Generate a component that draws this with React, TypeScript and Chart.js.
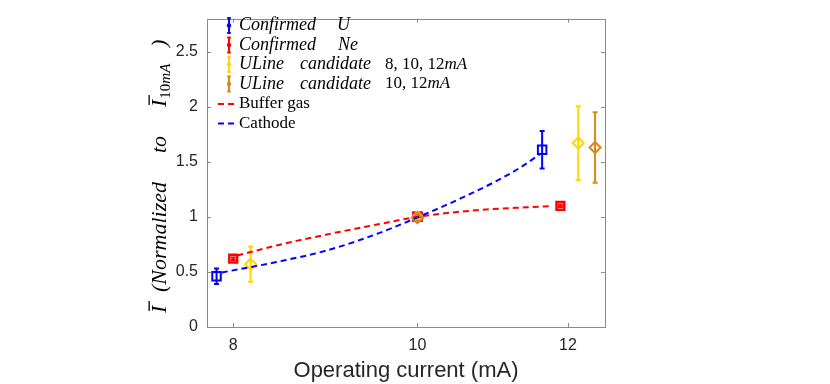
import React, { useEffect, useRef } from 'react';
import { Chart, registerables } from 'chart.js';

Chart.register(...registerables);

// ---------- data ----------
const X_TICKS = [8, 10, 12];
const Y_TICKS = [0, 0.5, 1, 1.5, 2, 2.5];
const X_MIN = 7.75;
const X_MAX = 12.55;
const Y_MIN = 0;
const Y_MAX = 2.8;

const U_X = [7.84, 10, 11.63];
const U_Y = [0.46, 1.0, 1.61];
const U_ERR = [0.07, 0.02, 0.17];

const NE_X = [8, 10, 11.89];
const NE_Y = [0.62, 1.0, 1.1];
const NE_ERR = [0.012, 0.015, 0.01];

const YEL_X = [8.17, 10, 12.15];
const YEL_Y = [0.57, 1.0, 1.67];
const YEL_ERR = [0.16, 0.02, 0.335];

const ORA_X = [10, 12.4];
const ORA_Y = [0.99, 1.63];
const ORA_ERR = [0.03, 0.32];

const BUF_X = [8.04, 8.43, 8.96, 9.52, 10, 10.74, 11.41, 11.78];
const BUF_Y = [0.65, 0.74, 0.84, 0.93, 1.0, 1.06, 1.087, 1.098];

const CAT_X = [7.89, 8.43, 8.96, 9.52, 10, 10.53, 10.96, 11.32, 11.59];
const CAT_Y = [0.495, 0.59, 0.695, 0.845, 0.995, 1.165, 1.31, 1.445, 1.565];

const X_TITLE = 'Operating current (mA)';

const BLUE = '#0000FF';
const RED = '#FF0000';
const YELLOW = '#FFD600';
const ORANGE = '#DD8614';
const AXIS = '#8a8a8a';
const TEXT = '#262626';

const zip = (xs: number[], ys: number[]) => xs.map((x, i) => ({ x, y: ys[i] }));

// ---------- plugins ----------
const errorBars = {
  id: 'errorBars',
  beforeDatasetDraw(chart: any, args: any) {
    const ds = chart.data.datasets[args.index];
    if (!ds.errors) return;
    const { ctx, scales } = chart;
    const x = scales.x;
    const y = scales.y;
    ctx.save();
    ctx.strokeStyle = ds.borderColor;
    ctx.lineWidth = 2;
    ds.data.forEach((p: any, i: number) => {
      const e = ds.errors[i];
      const px = x.getPixelForValue(p.x);
      const top = y.getPixelForValue(p.y + e);
      const bot = y.getPixelForValue(p.y - e);
      const cap = 2.5;
      ctx.beginPath();
      ctx.moveTo(px, top);
      ctx.lineTo(px, bot);
      ctx.moveTo(px - cap, top);
      ctx.lineTo(px + cap, top);
      ctx.moveTo(px - cap, bot);
      ctx.lineTo(px + cap, bot);
      ctx.stroke();
    });
    ctx.restore();
  },
};

const boxPlugin = {
  id: 'boxPlugin',
  beforeDatasetsDraw(chart: any) {
    const { ctx, chartArea: a, scales } = chart;
    ctx.save();
    ctx.strokeStyle = AXIS;
    ctx.lineWidth = 1;
    ctx.strokeRect(Math.round(a.left) + 0.5, Math.round(a.top) + 0.5, Math.round(a.right - a.left), Math.round(a.bottom - a.top));
    const t = 4;
    ctx.beginPath();
    X_TICKS.forEach((v) => {
      const px = Math.round(scales.x.getPixelForValue(v)) + 0.5;
      ctx.moveTo(px, a.bottom);
      ctx.lineTo(px, a.bottom - t);
      ctx.moveTo(px, a.top);
      ctx.lineTo(px, a.top + t);
    });
    Y_TICKS.forEach((v) => {
      const py = Math.round(scales.y.getPixelForValue(v)) + 0.5;
      ctx.moveTo(a.left, py);
      ctx.lineTo(a.left + t, py);
      ctx.moveTo(a.right, py);
      ctx.lineTo(a.right - t, py);
    });
    ctx.stroke();
    ctx.restore();
  },
};

const IT = (s: number) => `italic ${s}px "Liberation Serif"`;
const RM = (s: number) => `${s}px "Liberation Serif"`;

const legendPlugin = {
  id: 'matLegend',
  afterDraw(chart: any) {
    const ctx = chart.ctx;
    ctx.save();
    ctx.textBaseline = 'middle';
    ctx.textAlign = 'left';
    ctx.fillStyle = '#000';
    const rows = [25.5, 45, 64.5, 84, 104, 123.5];
    const ebColors = [BLUE, RED, YELLOW, ORANGE];
    const ix = 229;
    ebColors.forEach((c, i) => {
      const y = rows[i];
      ctx.strokeStyle = c;
      ctx.lineWidth = 2;
      ctx.beginPath();
      ctx.moveTo(ix, y - 7.5);
      ctx.lineTo(ix, y + 7.5);
      ctx.moveTo(ix - 1.8, y - 7.5);
      ctx.lineTo(ix + 1.8, y - 7.5);
      ctx.moveTo(ix - 1.8, y + 7.5);
      ctx.lineTo(ix + 1.8, y + 7.5);
      ctx.stroke();
      ctx.fillStyle = c;
      ctx.beginPath();
      ctx.arc(ix, y, 2.2, 0, Math.PI * 2);
      ctx.fill();
    });
    [RED, BLUE].forEach((c, i) => {
      const y = rows[4 + i];
      ctx.strokeStyle = c;
      ctx.lineWidth = 2;
      ctx.setLineDash([6, 4]);
      ctx.beginPath();
      ctx.moveTo(218, y);
      ctx.lineTo(236, y);
      ctx.stroke();
    });
    ctx.setLineDash([]);
    ctx.fillStyle = '#000';
    const put = (txt: string, font: string, x: number, y: number) => {
      ctx.font = font;
      ctx.fillText(txt, x, y);
      return x + ctx.measureText(txt).width;
    };
    put('Confirmed', IT(18), 239, rows[0]);
    put('U', IT(18), 337, rows[0]);
    put('Confirmed', IT(18), 239, rows[1]);
    put('Ne', IT(18), 338, rows[1]);
    put('ULine', IT(18), 239, rows[2]);
    put('candidate', IT(18), 300, rows[2]);
    let e = put('8, 10, 12', RM(17), 385, rows[2]);
    put('mA', IT(17), e, rows[2]);
    put('ULine', IT(18), 239, rows[3]);
    put('candidate', IT(18), 300, rows[3]);
    e = put('10, 12', RM(17), 385, rows[3]);
    put('mA', IT(17), e, rows[3]);
    put('Buffer gas', RM(17), 239, rows[4]);
    put('Cathode', RM(17), 239, rows[5]);
    ctx.restore();
  },
};

const yTitlePlugin = {
  id: 'yTitle',
  afterDraw(chart: any) {
    const ctx = chart.ctx;
    ctx.save();
    ctx.translate(166, 0);
    ctx.rotate(-Math.PI / 2);
    ctx.fillStyle = '#000';
    ctx.textBaseline = 'alphabetic';
    ctx.textAlign = 'left';
    const put = (txt: string, font: string, x: number, y: number) => {
      ctx.font = font;
      ctx.fillText(txt, x, y);
      return x + ctx.measureText(txt).width;
    };
    let e = put('I', IT(22), -313, 0);
    ctx.fillRect(-311, -17.5, 10, 1.3);
    put('(Normalized', IT(22), -292, 0);
    put('to', IT(22), -153, 0);
    e = put('I', IT(22), -107, 0);
    ctx.fillRect(-105, -17.5, 10, 1.3);
    e = put('10', RM(15), e + 1, 4);
    e = put('mA', IT(15), e, 4);
    put(')', IT(22), -47, 0);
    ctx.restore();
  },
};

export default function App() {
  const ref = useRef<HTMLCanvasElement | null>(null);
  useEffect(() => {
    if (!ref.current) return;
    const chart = new Chart(ref.current, {
      type: 'scatter',
      data: {
        datasets: [
          {
            label: 'Cathode',
            data: zip(CAT_X, CAT_Y),
            showLine: true,
            borderColor: BLUE,
            borderWidth: 2,
            borderDash: [6, 4],
            pointRadius: 0,
            cubicInterpolationMode: 'monotone',
            fill: false,
            order: 0,
          },
          {
            label: 'Buffer gas',
            data: zip(BUF_X, BUF_Y),
            showLine: true,
            borderColor: RED,
            borderWidth: 2,
            borderDash: [6, 4],
            pointRadius: 0,
            cubicInterpolationMode: 'monotone',
            fill: false,
            order: 1,
          },
          {
            label: 'ULine candidate 10,12mA',
            data: zip(ORA_X, ORA_Y),
            errors: ORA_ERR,
            borderColor: ORANGE,
            pointStyle: 'rectRot',
            pointRadius: 5.5,
            pointBorderWidth: 2,
            pointBorderColor: ORANGE,
            pointBackgroundColor: 'rgba(0,0,0,0)',
            order: 2,
          } as any,
          {
            label: 'ULine candidate 8,10,12mA',
            data: zip(YEL_X, YEL_Y),
            errors: YEL_ERR,
            borderColor: YELLOW,
            pointStyle: 'rectRot',
            pointRadius: 5.5,
            pointBorderWidth: 2,
            pointBorderColor: YELLOW,
            pointBackgroundColor: 'rgba(0,0,0,0)',
            order: 3,
          } as any,
          {
            label: 'Confirmed Ne',
            data: zip(NE_X, NE_Y),
            errors: NE_ERR,
            borderColor: RED,
            pointStyle: 'rect',
            pointRadius: 5.5,
            pointBorderWidth: 2.5,
            pointBorderColor: RED,
            pointBackgroundColor: 'rgba(0,0,0,0)',
            order: 4,
          } as any,
          {
            label: 'Confirmed U',
            data: zip(U_X, U_Y),
            errors: U_ERR,
            borderColor: BLUE,
            pointStyle: 'rect',
            pointRadius: 6,
            pointBorderWidth: 2,
            pointBorderColor: BLUE,
            pointBackgroundColor: 'rgba(0,0,0,0)',
            order: 5,
          } as any,
        ],
      },
      options: {
        animation: false,
        responsive: false,
        layout: { padding: { left: 0, right: 225, top: 10, bottom: 0 } },
        plugins: {
          legend: { display: false },
          tooltip: { enabled: false },
        },
        scales: {
          x: {
            type: 'logarithmic',
            min: X_MIN,
            max: X_MAX,
            bounds: 'data',
            afterBuildTicks: (s: any) => {
              s.ticks = X_TICKS.map((v) => ({ value: v }));
            },
            afterFit: (s: any) => {
              s.height = 57;
            },
            grid: { display: false, drawTicks: false },
            border: { display: false },
            ticks: {
              padding: 9,
              color: TEXT,
              autoSkip: false,
              maxRotation: 0,
              font: { family: 'Liberation Sans', size: 16 },
              callback: (v: any) => String(v),
            },
            title: {
              display: true,
              text: X_TITLE,
              color: TEXT,
              font: { family: 'Liberation Sans', size: 22 },
              padding: { top: 0, bottom: 0 },
            },
          },
          y: {
            type: 'linear',
            min: Y_MIN,
            max: Y_MAX,
            afterBuildTicks: (s: any) => {
              s.ticks = Y_TICKS.map((v) => ({ value: v }));
            },
            afterFit: (s: any) => {
              s.width = 207;
            },
            grid: { display: false, drawTicks: false },
            border: { display: false },
            ticks: {
              padding: 9,
              color: TEXT,
              font: { family: 'Liberation Sans', size: 16 },
              callback: (v: any) => String(v),
            },
          },
        },
      } as any,
      plugins: [errorBars, boxPlugin, legendPlugin, yTitlePlugin],
    });
    return () => chart.destroy();
  }, []);
  return (
    <div style={{ position: 'fixed', left: 0, top: 0, width: 830, height: 384, background: '#fff' }}>
      <canvas ref={ref} width={830} height={384} style={{ display: 'block', width: 830, height: 384 }} />
    </div>
  );
}
